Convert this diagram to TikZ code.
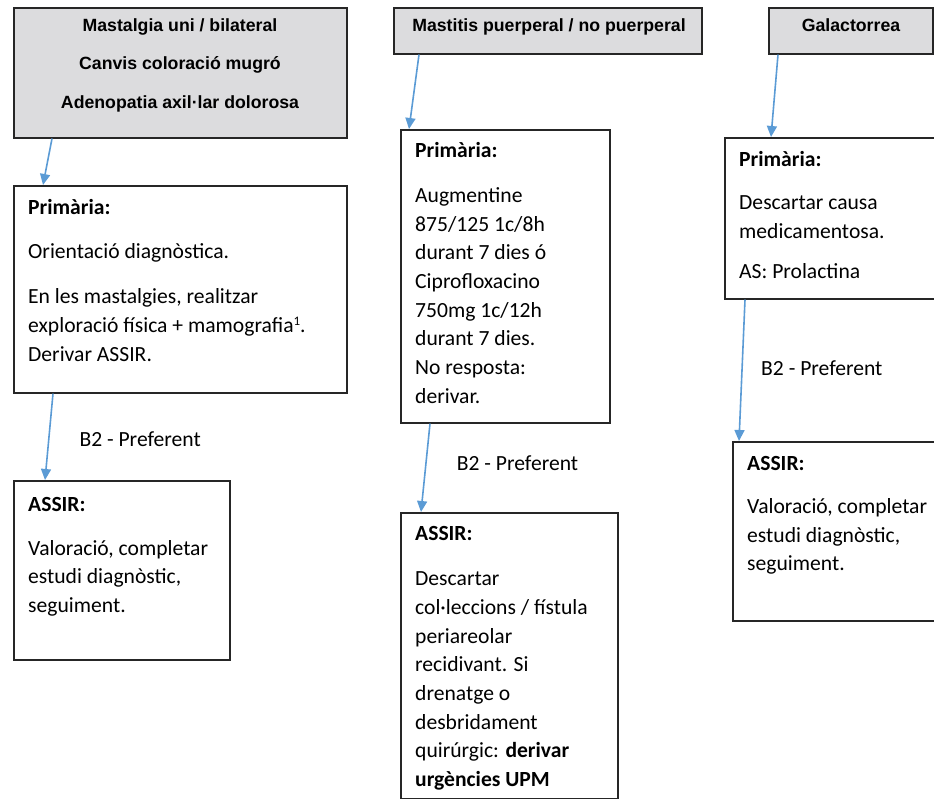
\documentclass[tikz,border=0pt]{standalone}
\usepackage{fontspec}
\setmainfont{Carlito}
\newfontfamily\hdrfont{Liberation Sans}
\usetikzlibrary{arrows.meta}
\usetikzlibrary{positioning}
\usetikzlibrary{calc}
\definecolor{hdrgray}{RGB}{220,220,222}
\definecolor{flowblue}{RGB}{91,155,213}
\definecolor{boxline}{RGB}{38,38,38}

\tikzset{
  box/.style={draw=boxline, line width=1.6pt, anchor=north west, inner sep=0pt},
  hdrbox/.style={box, fill=hdrgray},
  hdrtext/.style={font=\hdrfont\bfseries\fontsize{17.7}{38.3}\selectfont, align=center, inner sep=0pt, anchor=base},
  bodytext/.style={font=\fontsize{21.6}{28.7}\selectfont, align=left, inner sep=0pt, anchor=base west},
  flow/.style={draw=flowblue, line width=1.6pt, -{Triangle[width=10pt,length=11pt]}},
}

\begin{document}
\begin{tikzpicture}[x=1pt, y=-1pt]
  \useasboundingbox (0,0) rectangle (934,799);
  \clip (0,0) rectangle (934,799);

  % headers
  \node[hdrbox, minimum width=333, minimum height=130] (mastbox) at (13,7) {};
  \node[hdrbox, minimum width=308, minimum height=46] (mastitbox) at (393,7) {};
  \node[hdrbox, minimum width=164, minimum height=46] (galbox) at (768,7) {};

  % multi-line texts sit on the baseline of their last line
  \node[hdrtext] (masttext) at (180,108.3) {Mastalgia uni / bilateral\\Canvis coloració mugró\\Adenopatia axil·lar dolorosa};
  \node[hdrtext] (mastittext) at (549,31.7) {Mastitis puerperal / no puerperal};
  \node[hdrtext] (galtext) at (851,31.7) {Galactorrea};

  % primaria
  \node[box, minimum width=333, minimum height=207] (prim1) at (13,185) {};
  \node[box, minimum width=209, minimum height=293] (prim2) at (400,129) {};
  \node[box, minimum width=220, minimum height=161] (prim3) at (724,137) {};

  \node[bodytext] (prim1text) at (28,361.4) {\textbf{Primària:}\\[16pt]Orientació diagnòstica.\\[16.3pt]En les mastalgies, realitzar\\exploració física + mamografia{\fontsize{13}{13}\selectfont\raisebox{7pt}{1}}.\\Derivar ASSIR.};
  \node[bodytext] (prim2text) at (415,403.2) {\textbf{Primària:}\\[16.3pt]Augmentine\\875/125 1c/8h\\durant 7 dies ó\\Ciprofloxacino\\750mg 1c/12h\\durant 7 dies.\\No resposta:\\derivar.};
  \node[bodytext] (prim3text) at (739,278.9) {\textbf{Primària:}\\[14.3pt]Descartar causa\\medicamentosa.\\[12pt]AS: Prolactina};

  % assir
  \node[box, minimum width=216, minimum height=179] (assir1) at (13,480) {};
  \node[box, minimum width=217, minimum height=286] (assir2) at (400,512) {};
  \node[box, minimum width=210, minimum height=179] (assir3) at (732,441) {};

  \node[bodytext] (assir1text) at (28,612.4) {\textbf{ASSIR:}\\[15.3pt]Valoració, completar\\estudi diagnòstic,\\seguiment.};
  \node[bodytext] (assir2text) at (415,786.6) {\textbf{ASSIR:}\\[16.3pt]Descartar\\col·leccions / fístula\\periareolar\\recidivant. Si\\drenatge o\\desbridament\\quirúrgic: \textbf{derivar}\\\textbf{urgències UPM}};
  \node[bodytext] (assir3text) at (747,570.7) {\textbf{ASSIR:}\\[14.6pt]Valoració, completar\\estudi diagnòstic,\\seguiment.};

  % arrows
  \draw[flow] ([xshift=39pt]mastbox.south west) -- ([xshift=30pt]prim1.north west);
  \draw[flow] ([xshift=26pt]mastitbox.south west) -- ([xshift=9pt]prim2.north west);
  \draw[flow] ([xshift=10pt]galbox.south west) -- ([xshift=47pt]prim3.north west);
  \draw[flow] ([xshift=40pt]prim1.south west) -- ([xshift=32pt]assir1.north west);
  \draw[flow] ([xshift=30pt]prim2.south west) -- ([xshift=21pt]assir2.north west);
  \draw[flow] ([xshift=21pt]prim3.south west) -- ([xshift=7pt]assir3.north west);

  % labels
  \node[bodytext] (pref1) at (79.3,446.7) {B2 - Preferent};
  \node[bodytext] (pref2) at (456.7,470.7) {B2 - Preferent};
  \node[bodytext] (pref3) at (761,375.7) {B2 - Preferent};
\end{tikzpicture}
\end{document}
